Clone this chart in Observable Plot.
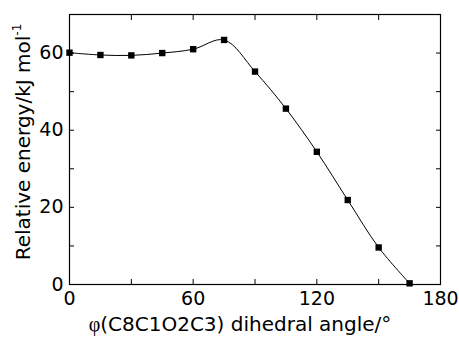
<!DOCTYPE html>
<html>
<head>
<meta charset="utf-8">
<script src="https://cdn.jsdelivr.net/npm/d3@7"></script>
<script src="https://cdn.jsdelivr.net/npm/@observablehq/plot@0.6"></script>
<style>
  html, body { margin: 0; padding: 0; background: #fff; }
  #chart svg { display: block; }
</style>
</head>
<body>
<div id="chart"></div>
<script>
const angles = [0, 15, 30, 45, 60, 75, 90, 105, 120, 135, 150, 165];
const energies = [60.1, 59.5, 59.4, 60.0, 61.0, 63.4, 55.2, 45.6, 34.4, 21.9, 9.6, 0.3];
const xMajorTicks = [0, 60, 120, 180];
const xAllTicks = [0, 30, 60, 90, 120, 150, 180];
const yMajorTicks = [0, 20, 40, 60];
const yAllTicks = [0, 10, 20, 30, 40, 50, 60, 70];
const xLabelPhi = "φ";
const xLabel = "(C8C1O2C3) dihedral angle/°";
const yLabel = "Relative energy/kJ mol";
const yLabelSup = "-1";

const data = angles.map((a, i) => ({angle: a, energy: energies[i]}));
const font = "DejaVu Sans, Verdana, sans-serif";
const noText = () => "";

const plot = Plot.plot({
  width: 459,
  height: 338,
  marginLeft: 69,
  marginRight: 19,
  marginTop: 14,
  marginBottom: 54,
  style: {fontFamily: font, fontSize: "19px", color: "#000", background: "#fff", overflow: "visible"},
  x: {domain: [0, 180]},
  y: {domain: [0, 70]},
  marks: [
    Plot.frame({stroke: "#000", strokeWidth: 1.2}),
    Plot.axisX({anchor: "bottom", ticks: xAllTicks, tickSize: -5, tickFormat: noText, label: null, strokeWidth: 1}),
    Plot.axisX({anchor: "top", ticks: xAllTicks, tickSize: -5, tickFormat: noText, label: null, strokeWidth: 1}),
    Plot.axisX({anchor: "bottom", ticks: xMajorTicks, tickSize: 0, tickPadding: 7, label: null, fontSize: 19}),
    Plot.axisY({anchor: "left", ticks: yAllTicks, tickSize: -5, tickFormat: noText, label: null, strokeWidth: 1}),
    Plot.axisY({anchor: "right", ticks: yAllTicks, tickSize: -5, tickFormat: noText, label: null, strokeWidth: 1}),
    Plot.axisY({anchor: "left", ticks: yMajorTicks, tickSize: 0, tickPadding: 6, label: null, fontSize: 19}),
    Plot.line(data, {x: "angle", y: "energy", curve: "catmull-rom", stroke: "#000", strokeWidth: 1}),
    Plot.dot(data, {x: "angle", y: "energy", symbol: "square", r: 3.6, fill: "#000", stroke: "none"})
  ]
});

const svg = d3.select(plot);
const xl = svg.append("text")
  .attr("x", 240)
  .attr("y", 331)
  .attr("text-anchor", "middle")
  .attr("font-family", font)
  .attr("font-size", 20)
  .attr("fill", "#000");
xl.append("tspan").attr("font-family", "Liberation Serif, DejaVu Serif, serif").text(xLabelPhi);
xl.append("tspan").text(xLabel);

const yl = svg.append("text")
  .attr("transform", "translate(30,142) rotate(-90)")
  .attr("text-anchor", "middle")
  .attr("font-family", font)
  .attr("font-size", 20)
  .attr("fill", "#000");
yl.append("tspan").text(yLabel);
yl.append("tspan").attr("font-size", 12).attr("dy", -9).text(yLabelSup);

document.getElementById("chart").appendChild(plot);
</script>
</body>
</html>
